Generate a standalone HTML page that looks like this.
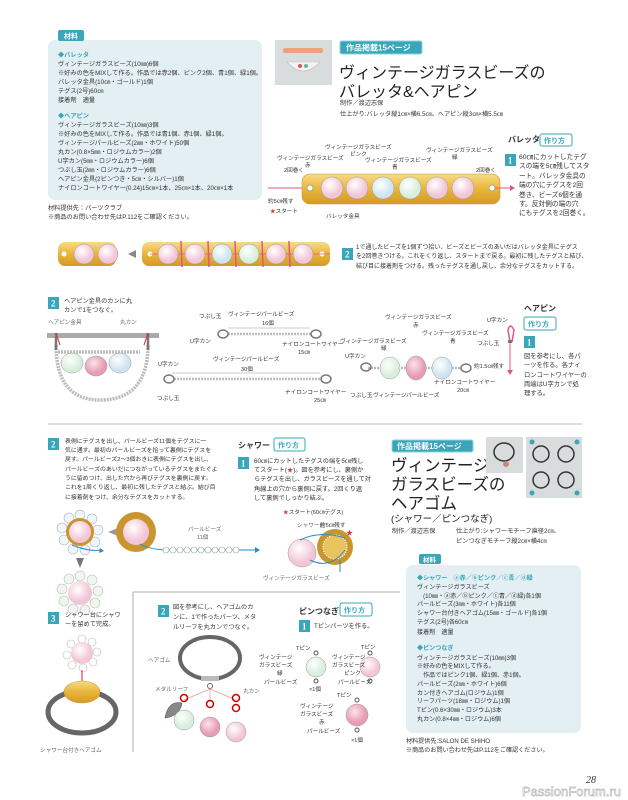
<!DOCTYPE html>
<html><head><meta charset="utf-8">
<style>
html,body{margin:0;padding:0;background:#fff;}
svg{display:block;}
text{font-family:"Liberation Sans","Noto Sans CJK JP",sans-serif;fill:#333;}
.s{font-size:6.2px;}
.l{font-size:5.6px;fill:#666;}
.t{fill:#3aa6b9;font-weight:bold;}
.h{font-size:16px;fill:#222;}
.n{font-family:"Liberation Serif",serif;fill:#fff;font-size:9px;font-weight:bold;}
</style></head><body>
<svg width="628" height="800" viewBox="0 0 628 800" xmlns="http://www.w3.org/2000/svg">
<defs>
<radialGradient id="pk" cx="40%" cy="35%"><stop offset="0" stop-color="#fff"/><stop offset="1" stop-color="#f2c6d6"/></radialGradient>
<radialGradient id="bl" cx="40%" cy="35%"><stop offset="0" stop-color="#fff"/><stop offset="1" stop-color="#cfe4f0"/></radialGradient>
<radialGradient id="gr" cx="40%" cy="35%"><stop offset="0" stop-color="#fff"/><stop offset="1" stop-color="#d8eedd"/></radialGradient>
<radialGradient id="rd" cx="40%" cy="35%"><stop offset="0" stop-color="#fbe3ea"/><stop offset="1" stop-color="#e79cb4"/></radialGradient>
<linearGradient id="gd" x1="0" y1="0" x2="0" y2="1"><stop offset="0" stop-color="#f7dc86"/><stop offset=".5" stop-color="#e9b53a"/><stop offset="1" stop-color="#d49a25"/></linearGradient>
</defs>

<!-- Materials box 1 -->
<rect x="48" y="40" width="214" height="160" rx="7" fill="#e3eff3"/>
<rect x="58" y="30" width="26" height="11" rx="2" fill="#3aa6b9"/>
<text x="64" y="38.5" style="font-size:7px;fill:#fff;font-weight:bold">材料</text>
<g class="s">
<text x="58" y="57" class="t">◆バレッタ</text>
<text x="58" y="66">ヴィンテージガラスビーズ(10㎜)6個</text>
<text x="58" y="75">※好みの色をMIXして作る。作品では赤2個、ピンク2個、青1個、緑1個。</text>
<text x="58" y="84">バレッタ金具(10㎝・ゴールド)1個</text>
<text x="58" y="93">テグス(2号)60㎝</text>
<text x="58" y="102">接着剤　適量</text>
<text x="58" y="118" class="t">◆ヘアピン</text>
<text x="58" y="127">ヴィンテージガラスビーズ(10㎜)3個</text>
<text x="58" y="136">※好みの色をMIXして作る。作品では青1個、赤1個、緑1個。</text>
<text x="58" y="145">ヴィンテージパールビーズ(2㎜・ホワイト)50個</text>
<text x="58" y="154">丸カン(0.8×5㎜・ロジウムカラー)2個</text>
<text x="58" y="163">U字カン(5㎜・ロジウムカラー)6個</text>
<text x="58" y="172">つぶし玉(2㎜・ロジウムカラー)6個</text>
<text x="58" y="181">ヘアピン金具(2ピンつき・5㎝・シルバー)1個</text>
<text x="58" y="190">ナイロンコートワイヤー(0.24)15㎝×1本、25㎝×1本、20㎝×1本</text>
<text x="48" y="210">材料提供先：パーツクラブ</text>
<text x="48" y="219">※商品のお問い合わせ先はP.112をご確認ください。</text>
</g>

<!-- Header 1 -->
<rect x="275" y="40" width="57" height="45" fill="#d9dcdc"/>
<rect x="283" y="48" width="40" height="5" rx="2" fill="#e9a47c"/>
<path d="M287 62 Q303 80 320 62 Z" fill="#f4f4f4" stroke="#bbb" stroke-width=".6"/>
<circle cx="300" cy="66" r="2" fill="#d55"/><circle cx="306" cy="66" r="2" fill="#6b9"/>
<rect x="340" y="41" width="82" height="13" rx="2" fill="#3aa6b9" stroke="#8fd0db"/>
<text x="346" y="50.5" style="font-size:8px;fill:#fff;font-weight:bold">作品掲載15ページ</text>
<text x="339" y="78" class="h">ヴィンテージガラスビーズの</text>
<text x="339" y="97" class="h">バレッタ&amp;ヘアピン</text>
<text x="340" y="105" class="s">制作／渡辺志保</text>
<text x="340" y="116" class="s">仕上がり:バレッタ縦1㎝×横6.5㎝、ヘアピン縦3㎝×横5.5㎝</text>

<!-- Barrette diagram -->
<line x1="268" y1="188" x2="305" y2="188" stroke="#e0568a" stroke-width="1"/>
<rect x="302" y="174" width="198" height="30" rx="8" fill="url(#gd)" stroke="#c9962a" stroke-width=".6"/>
<circle cx="310" cy="188" r="3" fill="#fff" stroke="#aa8"/>
<circle cx="492" cy="188" r="3" fill="#fff" stroke="#aa8"/>
<circle cx="332" cy="188" r="11" fill="url(#pk)" stroke="#999" stroke-width=".5"/>
<circle cx="357" cy="188" r="11" fill="url(#pk)" stroke="#999" stroke-width=".5"/>
<circle cx="383" cy="188" r="11" fill="url(#bl)" stroke="#999" stroke-width=".5"/>
<circle cx="410" cy="188" r="11" fill="url(#gr)" stroke="#999" stroke-width=".5"/>
<circle cx="437" cy="188" r="11" fill="url(#pk)" stroke="#999" stroke-width=".5"/>
<circle cx="463" cy="188" r="11" fill="url(#pk)" stroke="#999" stroke-width=".5"/>
<line x1="495" y1="188" x2="510" y2="188" stroke="#e0568a"/><path d="M510 185 L515 188 L510 191Z" fill="#e0568a"/>
<g class="l">
<text x="325" y="149">ヴィンテージガラスビーズ</text><text x="350" y="156">ピンク</text>
<text x="277" y="160">ヴィンテージガラスビーズ</text><text x="305" y="167">赤</text>
<text x="365" y="162">ヴィンテージガラスビーズ</text><text x="392" y="169">青</text>
<text x="426" y="152">ヴィンテージガラスビーズ</text><text x="452" y="159">緑</text>
<text x="284" y="172">2回巻く</text><text x="476" y="172">2回巻く</text>
<text x="268" y="203" style="fill:#333">約5㎝残す</text>
<text x="270" y="213" style="fill:#333"><tspan fill="#d33">★</tspan>スタート</text>
<text x="326" y="218">バレッタ金具</text>
</g>
<text x="508" y="142" style="font-size:8px;font-weight:bold">バレッタ</text>
<rect x="540" y="134" width="32" height="12" rx="2" fill="#fff" stroke="#3aa6b9"/>
<text x="544" y="143" style="font-size:7px;fill:#3aa6b9;font-weight:bold">作り方</text>
<rect x="505" y="154" width="11" height="12" fill="#3aa6b9"/><text x="508" y="163.5" class="n">1</text>
<g class="s" style="font-size:6.7px">
<text x="519" y="159">60㎝にカットしたテグ</text>
<text x="519" y="168">スの端を5㎝残してスタ</text>
<text x="519" y="178">ート。バレッタ金具の</text>
<text x="519" y="187">端の穴にテグスを2回</text>
<text x="519" y="197">巻き、ビーズ6個を通</text>
<text x="519" y="206">す。反対側の端の穴</text>
<text x="519" y="215">にもテグスを2回巻く。</text>
</g>

<!-- Row 2 barrettes -->
<rect x="58" y="242" width="58" height="24" rx="7" fill="url(#gd)"/>
<circle cx="64" cy="254" r="2.5" fill="#fff"/>
<circle cx="84" cy="254" r="10" fill="url(#pk)" stroke="#999" stroke-width=".5"/>
<circle cx="108" cy="254" r="10" fill="url(#pk)" stroke="#999" stroke-width=".5"/>
<path d="M128 254 L136 250 L136 258Z" fill="#888"/>
<rect x="142" y="242" width="188" height="24" rx="7" fill="url(#gd)"/>
<circle cx="150" cy="254" r="2.5" fill="#fff"/><circle cx="322" cy="254" r="2.5" fill="#fff"/>
<line x1="150" y1="254" x2="330" y2="254" stroke="#e0568a" stroke-width=".7"/>
<circle cx="168" cy="254" r="10" fill="url(#pk)" stroke="#999" stroke-width=".5"/>
<circle cx="195" cy="254" r="10" fill="url(#pk)" stroke="#999" stroke-width=".5"/>
<circle cx="222" cy="254" r="10" fill="url(#bl)" stroke="#999" stroke-width=".5"/>
<circle cx="249" cy="254" r="10" fill="url(#gr)" stroke="#999" stroke-width=".5"/>
<circle cx="276" cy="254" r="10" fill="url(#pk)" stroke="#999" stroke-width=".5"/>
<circle cx="303" cy="254" r="10" fill="url(#pk)" stroke="#999" stroke-width=".5"/>
<g stroke="#e0568a" stroke-width="1.5"><line x1="181" y1="241" x2="182" y2="267"/><line x1="208" y1="241" x2="209" y2="267"/><line x1="235" y1="241" x2="236" y2="267"/><line x1="262" y1="241" x2="263" y2="267"/><line x1="289" y1="241" x2="290" y2="267"/></g>
<rect x="342" y="248" width="11" height="12" fill="#3aa6b9"/><text x="345" y="257.5" class="n">2</text>
<g class="s" style="font-size:6px">
<text x="356" y="249">1で通したビーズを1個ずつ拾い、ビーズとビーズのあいだはバレッタ金具にテグス</text>
<text x="356" y="258">を2回巻きつける。これをくり返し、スタートまで戻る。最初に残したテグスと結び、</text>
<text x="356" y="268">結び目に接着剤をつける。残ったテグスを通し戻し、余分なテグスをカットする。</text>
</g>

<!-- Hairpin -->
<rect x="48" y="297" width="11" height="12" fill="#3aa6b9"/><text x="51" y="306.5" class="n">2</text>
<text x="64" y="303" class="s">ヘアピン金具のカンに丸</text>
<text x="64" y="312" class="s">カンで1をつなぐ。</text>
<text x="48" y="324" class="l">ヘアピン金具</text><text x="120" y="324" class="l">丸カン</text>
<rect x="47" y="333" width="112" height="5" fill="#aaa"/>
<path d="M56 345 Q56 400 100 400 Q148 400 148 345" fill="none" stroke="#bbb" stroke-width="3.5" stroke-dasharray="2 1"/>
<path d="M58 352 L140 352" fill="none" stroke="#bbb" stroke-width="3.5" stroke-dasharray="2 1"/>
<line x1="56" y1="333" x2="56" y2="350" stroke="#777" stroke-width="2.5"/><line x1="148" y1="333" x2="148" y2="350" stroke="#777" stroke-width="2.5"/>
<line x1="56" y1="333" x2="60" y2="345" stroke="#d22" stroke-width="1"/><line x1="148" y1="333" x2="144" y2="345" stroke="#d22"/>
<ellipse cx="72" cy="363" rx="11" ry="10" fill="url(#gr)" stroke="#999" stroke-width=".5"/>
<ellipse cx="96" cy="366" rx="11" ry="10" fill="url(#rd)" stroke="#999" stroke-width=".5"/>
<ellipse cx="120" cy="363" rx="11" ry="10" fill="url(#bl)" stroke="#999" stroke-width=".5"/>
<g class="l">
<text x="199" y="318">つぶし玉</text><text x="228" y="316">ヴィンテージパールビーズ</text><text x="262" y="325">16個</text>
<text x="190" y="343">U字カン</text><text x="282" y="346">ナイロンコートワイヤー</text><text x="298" y="354">15㎝</text>
<text x="158" y="366">U字カン</text><text x="213" y="361">ヴィンテージパールビーズ</text><text x="241" y="371">30個</text>
<text x="285" y="394">ナイロンコートワイヤー</text><text x="314" y="402">25㎝</text><text x="157" y="400">つぶし玉</text>
</g>
<line x1="228" y1="328" x2="310" y2="328" stroke="#999" stroke-width=".5"/>
<line x1="228" y1="334" x2="312" y2="334" stroke="#bbb" stroke-width="2.5" stroke-dasharray="2 1"/>
<ellipse cx="223" cy="334" rx="5" ry="4" fill="none" stroke="#777" stroke-width="1.5"/><ellipse cx="316" cy="334" rx="5" ry="4" fill="none" stroke="#777" stroke-width="1.5"/>
<line x1="172" y1="373" x2="320" y2="373" stroke="#999" stroke-width=".5"/>
<line x1="174" y1="379" x2="322" y2="379" stroke="#bbb" stroke-width="2.5" stroke-dasharray="2 1"/>
<ellipse cx="169" cy="379" rx="5" ry="4" fill="none" stroke="#777" stroke-width="1.5"/><ellipse cx="326" cy="379" rx="5" ry="4" fill="none" stroke="#777" stroke-width="1.5"/>
<!-- beads chain -->
<line x1="368" y1="368" x2="462" y2="368" stroke="#bbb" stroke-width="2.5" stroke-dasharray="2 1"/>
<ellipse cx="366" cy="367" rx="5" ry="4" fill="none" stroke="#777" stroke-width="1.5"/><ellipse cx="466" cy="368" rx="5" ry="4" fill="none" stroke="#777" stroke-width="1.5"/>
<ellipse cx="390" cy="368" rx="10" ry="11" fill="url(#gr)" stroke="#999" stroke-width=".5"/>
<ellipse cx="416" cy="368" rx="10" ry="12" fill="url(#rd)" stroke="#999" stroke-width=".5"/>
<ellipse cx="442" cy="368" rx="10" ry="11" fill="url(#bl)" stroke="#999" stroke-width=".5"/>
<g class="l">
<text x="385" y="319">ヴィンテージガラスビーズ</text><text x="413" y="327">赤</text>
<text x="422" y="335">ヴィンテージガラスビーズ</text><text x="450" y="343">青</text>
<text x="340" y="343">ヴィンテージガラスビーズ</text><text x="381" y="350">緑</text>
<text x="345" y="358">U字カン</text><text x="350" y="397">つぶし玉</text>
<text x="373" y="397">ヴィンテージパールビーズ</text>
<text x="434" y="384">ナイロンコートワイヤー</text><text x="457" y="392">20㎝</text>
<text x="474" y="368">約1.5㎝残す</text>
<text x="487" y="322">U字カン</text><text x="477" y="345">つぶし玉</text>
</g>
<path d="M510 342 L508 330 Q510 322 514 330 L512 342" fill="none" stroke="#e0568a" stroke-width="1.5"/>
<rect x="508" y="340" width="4" height="3" fill="#777"/>
<line x1="510" y1="343" x2="510" y2="370" stroke="#e0568a"/><path d="M507 370 L510 375 L513 370Z" fill="#e0568a"/>
<text x="524" y="311" style="font-size:8px;font-weight:bold">ヘアピン</text>
<rect x="524" y="317" width="32" height="13" rx="2" fill="#fff" stroke="#3aa6b9"/>
<text x="528" y="326.5" style="font-size:7px;fill:#3aa6b9;font-weight:bold">作り方</text>
<rect x="524" y="336" width="11" height="12" fill="#3aa6b9"/><text x="527" y="345.5" class="n">1</text>
<g class="s" style="font-size:6.3px">
<text x="524" y="358">図を参考にし、各パ</text><text x="524" y="367">ーツを作る。各ナイ</text>
<text x="524" y="377">ロンコートワイヤーの</text><text x="524" y="386">両端はU字カンで処</text><text x="524" y="395">理する。</text>
</g>
<line x1="48" y1="424" x2="582" y2="424" stroke="#aaa" stroke-width=".8"/>

<!-- Shower -->
<rect x="48" y="438" width="11" height="12" fill="#3aa6b9"/><text x="51" y="447.5" class="n">2</text>
<g class="s" style="font-size:5.9px">
<text x="65" y="443">表側にテグスを出し、パールビーズ11個をテグスに一</text>
<text x="65" y="452">気に通す。最初のパールビーズを拾って裏側にテグスを</text>
<text x="65" y="461">戻す。パールビーズ2〜3個おきに表側にテグスを出し、</text>
<text x="65" y="471">パールビーズのあいだにつながっているテグスをまたぐよ</text>
<text x="65" y="480">うに留めつけ、出した穴から再びテグスを裏側に戻す。</text>
<text x="65" y="489">これを1周くり返し、最初に残したテグスと結ぶ。結び目</text>
<text x="65" y="499">に接着剤をつけ、余分なテグスをカットする。</text>
</g>
<text x="238" y="448" style="font-size:8px;font-weight:bold">シャワー</text>
<rect x="274" y="438" width="31" height="13" rx="2" fill="#fff" stroke="#3aa6b9"/>
<text x="278" y="447.5" style="font-size:7px;fill:#3aa6b9;font-weight:bold">作り方</text>
<rect x="238" y="457" width="11" height="12" fill="#3aa6b9"/><text x="241" y="466.5" class="n">1</text>
<g class="s" style="font-size:6.2px">
<text x="254" y="463">60㎝にカットしたテグスの端を5㎝残し</text>
<text x="254" y="472">てスタート(<tspan fill="#d33">★</tspan>)。図を参考にし、裏側か</text>
<text x="254" y="481">らテグスを出し、ガラスビーズを通して対</text>
<text x="254" y="491">角線上の穴から裏側に戻す。2回くり返</text>
<text x="254" y="500">して裏側でしっかり結ぶ。</text>
</g>
<!-- flower 1 -->
<g fill="#eef6f8" stroke="#aac" stroke-width=".6">
<circle cx="80" cy="515" r="5"/><circle cx="92" cy="519" r="5"/><circle cx="98" cy="530" r="5"/><circle cx="95" cy="542" r="5"/><circle cx="85" cy="550" r="5"/><circle cx="73" cy="549" r="5"/><circle cx="64" cy="540" r="5"/><circle cx="62" cy="528" r="5"/><circle cx="69" cy="518" r="5"/>
</g>
<circle cx="80" cy="532" r="14" fill="#c9952e"/><circle cx="80" cy="532" r="11" fill="url(#pk)"/>
<path d="M72 545 Q90 552 100 550" fill="none" stroke="#2a8ac8"/><path d="M100 548 L104 551 L99 553Z" fill="#2a8ac8"/>
<path d="M108 532 L118 528 L118 536Z" fill="#999"/>
<circle cx="136" cy="532" r="20" fill="#c9952e"/><circle cx="136" cy="532" r="13" fill="url(#pk)"/>
<path d="M140 544 Q150 550 170 550 L255 550" fill="none" stroke="#2a8ac8"/><path d="M255 547 L260 550 L255 553Z" fill="#2a8ac8"/>
<g fill="#fff" stroke="#9aa" stroke-width=".6">
<circle cx="166" cy="550" r="3"/><circle cx="173" cy="550" r="3"/><circle cx="180" cy="550" r="3"/><circle cx="187" cy="550" r="3"/><circle cx="194" cy="550" r="3"/><circle cx="201" cy="550" r="3"/><circle cx="208" cy="550" r="3"/><circle cx="215" cy="550" r="3"/><circle cx="222" cy="550" r="3"/><circle cx="229" cy="550" r="3"/><circle cx="236" cy="550" r="3"/>
</g>
<text x="188" y="531" class="l">パールビーズ</text><text x="197" y="539" class="l">11個</text>
<path d="M76 558 L84 558 L80 568Z" fill="#777"/>
<g fill="#eef6f0" stroke="#bba" stroke-width=".6">
<circle cx="80" cy="576" r="5"/><circle cx="92" cy="580" r="5"/><circle cx="98" cy="591" r="5"/><circle cx="95" cy="603" r="5"/><circle cx="85" cy="610" r="5"/><circle cx="73" cy="609" r="5"/><circle cx="64" cy="601" r="5"/><circle cx="62" cy="589" r="5"/><circle cx="69" cy="579" r="5"/>
</g>
<circle cx="80" cy="593" r="12" fill="url(#pk)"/>
<!-- shower diagram -->
<text x="283" y="514" class="l" style="fill:#333"><tspan fill="#d33">★</tspan>スタート(60㎝テグス)</text>
<text x="297" y="527" class="l">シャワー台</text><text x="320" y="527" class="l" style="fill:#333">約5㎝残す</text>
<circle cx="302" cy="553" r="14" fill="url(#pk)" stroke="#999" stroke-width=".5"/>
<circle cx="335" cy="547" r="18" fill="#c9952e"/>
<circle cx="335" cy="547" r="12" fill="#e8c35e" stroke="#fff" stroke-dasharray="1 1.5" stroke-width="1.2"/>
<path d="M300 540 Q320 530 345 538 M310 560 Q330 570 345 550 M340 560 L340 572" fill="none" stroke="#2a8ac8"/>
<text x="346" y="535" style="font-size:7px;fill:#d33">★</text>
<text x="263" y="580" class="l">ヴィンテージガラスビーズ</text>

<!-- step 3 -->
<rect x="48" y="612" width="11" height="12" fill="#3aa6b9"/><text x="51" y="621.5" class="n">3</text>
<text x="65" y="617" class="s">シャワー台にシャワ</text><text x="65" y="626" class="s">ーを留めて完成。</text>
<g fill="#fff" stroke="#bba" stroke-width=".6">
<circle cx="82" cy="639" r="4"/><circle cx="92" cy="642" r="4"/><circle cx="97" cy="652" r="4"/><circle cx="93" cy="662" r="4"/><circle cx="83" cy="668" r="4"/><circle cx="72" cy="665" r="4"/><circle cx="67" cy="655" r="4"/><circle cx="71" cy="644" r="4"/>
</g>
<circle cx="82" cy="653" r="11" fill="url(#pk)"/>
<line x1="82" y1="670" x2="82" y2="682" stroke="#d22"/><path d="M79 682 L82 688 L85 682Z" fill="#d22"/>
<ellipse cx="82" cy="712" rx="34" ry="21" fill="none" stroke="#666" stroke-width="5"/>
<ellipse cx="82" cy="692" rx="18" ry="11" fill="url(#gd)" stroke="#c9962a" stroke-width=".6"/>
<text x="40" y="752" class="l">シャワー台付きヘアゴム</text>

<!-- frame -->
<path d="M133 752 L133 592 L400 592" fill="none" stroke="#999" stroke-width=".8"/>
<rect x="158" y="605" width="11" height="12" fill="#3aa6b9"/><text x="161" y="614.5" class="n">2</text>
<g class="s"><text x="173" y="609">図を参考にし、ヘアゴムのカ</text><text x="173" y="619">ンに、1で作ったパーツ、メタ</text><text x="173" y="629">ルリーフを丸カンでつなぐ。</text></g>
<ellipse cx="210" cy="658" rx="30" ry="21" fill="none" stroke="#666" stroke-width="4"/>
<rect x="201" y="676" width="18" height="5" fill="#bbb"/>
<circle cx="210" cy="686" r="2.5" fill="none" stroke="#666"/>
<path d="M210 689 L184 700 M210 689 L210 700 M210 689 L236 700" stroke="#e99" stroke-width=".7"/>
<g fill="none" stroke="#c00" stroke-width="1.5">
<circle cx="184" cy="698" r="3.5"/><circle cx="210" cy="704" r="3.5"/><circle cx="236" cy="698" r="3.5"/><circle cx="236" cy="708" r="3.5"/>
</g>
<path d="M165 718 Q168 700 182 703 Q180 716 165 718Z" fill="#888" stroke="#444" stroke-width=".5"/>
<circle cx="184" cy="720" r="10" fill="url(#gr)" stroke="#999" stroke-width=".5"/>
<circle cx="210" cy="727" r="10" fill="url(#rd)" stroke="#999" stroke-width=".5"/>
<circle cx="236" cy="732" r="10" fill="url(#pk)" stroke="#999" stroke-width=".5"/>
<text x="148" y="662" class="l">ヘアゴム</text><text x="155" y="691" class="l">メタルリーフ</text><text x="243" y="693" class="l">丸カン</text>

<text x="299" y="614" style="font-size:8px;font-weight:bold">ピンつなぎ</text>
<rect x="340" y="603" width="32" height="13" rx="2" fill="#fff" stroke="#3aa6b9"/>
<text x="344" y="612.5" style="font-size:7px;fill:#3aa6b9;font-weight:bold">作り方</text>
<rect x="299" y="620" width="11" height="12" fill="#3aa6b9"/><text x="302" y="629.5" class="n">1</text>
<text x="314" y="628" class="s">Tピンパーツを作る。</text>
<circle cx="316" cy="667" r="10" fill="url(#gr)" stroke="#999" stroke-width=".5"/>
<circle cx="316" cy="653" r="2" fill="none" stroke="#555"/><circle cx="316" cy="681" r="2" fill="none" stroke="#555"/>
<circle cx="370" cy="667" r="10" fill="url(#pk)" stroke="#999" stroke-width=".5"/>
<circle cx="370" cy="653" r="2" fill="none" stroke="#555"/><circle cx="370" cy="681" r="2" fill="none" stroke="#555"/>
<circle cx="357" cy="715" r="11" fill="url(#rd)" stroke="#999" stroke-width=".5"/>
<circle cx="357" cy="700" r="2" fill="none" stroke="#555"/><circle cx="357" cy="730" r="2" fill="none" stroke="#555"/>
<g class="l">
<text x="296" y="650">Tピン</text><text x="259" y="659">ヴィンテージ</text><text x="259" y="667">ガラスビーズ</text><text x="277" y="675">緑</text><text x="264" y="684">パールビーズ</text><text x="309" y="691">×1個</text>
<text x="361" y="649">Tピン</text><text x="332" y="659">ヴィンテージ</text><text x="332" y="667">ガラスビーズ</text><text x="344" y="675">ピンク</text><text x="338" y="684">パールビーズ</text>
<text x="337" y="697">Tピン</text><text x="300" y="708">ヴィンテージ</text><text x="300" y="716">ガラスビーズ</text><text x="319" y="724">赤</text><text x="307" y="733">パールビーズ</text><text x="351" y="742">×1個</text>
</g>

<!-- Header 2 -->
<rect x="392" y="440" width="81" height="12" rx="2" fill="#3aa6b9" stroke="#8fd0db"/>
<text x="397" y="449" style="font-size:8px;fill:#fff;font-weight:bold">作品掲載15ページ</text>
<text x="391" y="471" class="h" style="font-size:16.5px">ヴィンテージ</text>
<text x="391" y="490" class="h" style="font-size:16.5px">ガラスビーズの</text>
<text x="391" y="509" class="h" style="font-size:16.5px">ヘアゴム</text>
<text x="391" y="522" style="font-size:9.5px;fill:#222">(シャワー／ピンつなぎ)</text>
<text x="392" y="533" class="s">制作／渡辺志保</text>
<text x="456" y="533" class="s">仕上がり:シャワーモチーフ直径2㎝、</text>
<text x="456" y="543" class="s">ピンつなぎモチーフ縦2㎝×横4㎝</text>
<rect x="486" y="437" width="37" height="36" fill="#d9dcdc"/>
<ellipse cx="504" cy="452" rx="10" ry="9" fill="none" stroke="#333" stroke-width="1.5"/><circle cx="506" cy="464" r="3" fill="#c87"/>
<rect x="526" y="437" width="56" height="61" fill="#d9dcdc"/>
<g fill="none" stroke="#333" stroke-width="1.5">
<ellipse cx="541" cy="454" rx="8" ry="8"/><ellipse cx="566" cy="454" rx="8" ry="8"/><ellipse cx="541" cy="480" rx="8" ry="8"/><ellipse cx="566" cy="480" rx="8" ry="8"/></g>
<g fill="#3aa6b9"><circle cx="532" cy="442" r="2.5"/><circle cx="577" cy="442" r="2.5"/><circle cx="532" cy="493" r="2.5"/><circle cx="577" cy="493" r="2.5"/></g>

<!-- Materials box 2 -->
<rect x="406" y="565" width="175" height="168" rx="7" fill="#e3eff3"/>
<rect x="419" y="554" width="22" height="10" rx="2" fill="#3aa6b9"/>
<text x="423" y="562" style="font-size:6.5px;fill:#fff;font-weight:bold">材料</text>
<g class="s" style="font-size:6.1px">
<text x="417" y="580" class="t">◆シャワー　ⓐ赤／ⓑピンク／ⓒ青／ⓓ緑</text>
<text x="417" y="589">ヴィンテージガラスビーズ</text>
<text x="417" y="598">　(10㎜・ⓐ赤／ⓑピンク／ⓒ青／ⓓ緑)各1個</text>
<text x="417" y="606">パールビーズ(3㎜・ホワイト)各11個</text>
<text x="417" y="615">シャワー台付きヘアゴム(15㎜・ゴールド)各1個</text>
<text x="417" y="624">テグス(2号)各60㎝</text>
<text x="417" y="634">接着剤　適量</text>
<text x="417" y="650" class="t">◆ピンつなぎ</text>
<text x="417" y="660">ヴィンテージガラスビーズ(10㎜)3個</text>
<text x="417" y="668">※好みの色をMIXして作る。</text>
<text x="417" y="677">　作品ではピンク1個、緑1個、赤1個。</text>
<text x="417" y="686">パールビーズ(2㎜・ホワイト)6個</text>
<text x="417" y="695">カン付きヘアゴム(ロジウム)1個</text>
<text x="417" y="703">リーフパーツ(18㎜・ロジウム)1個</text>
<text x="417" y="712">Tピン(0.6×30㎜・ロジウム)3本</text>
<text x="417" y="721">丸カン(0.8×4㎜・ロジウム)6個</text>
<text x="406" y="743">材料提供先:SALON DE SHIHO</text>
<text x="406" y="752">※商品のお問い合わせ先はP.112をご確認ください。</text>
</g>

<text x="586" y="783" style="font-family:'Liberation Serif',serif;font-style:italic;font-size:10px;fill:#333">28</text>
<text x="522" y="796" style="font-size:13px;fill:#fff;stroke:#bbb;stroke-width:.7">PassionForum.ru</text>
</svg>
</body></html>
